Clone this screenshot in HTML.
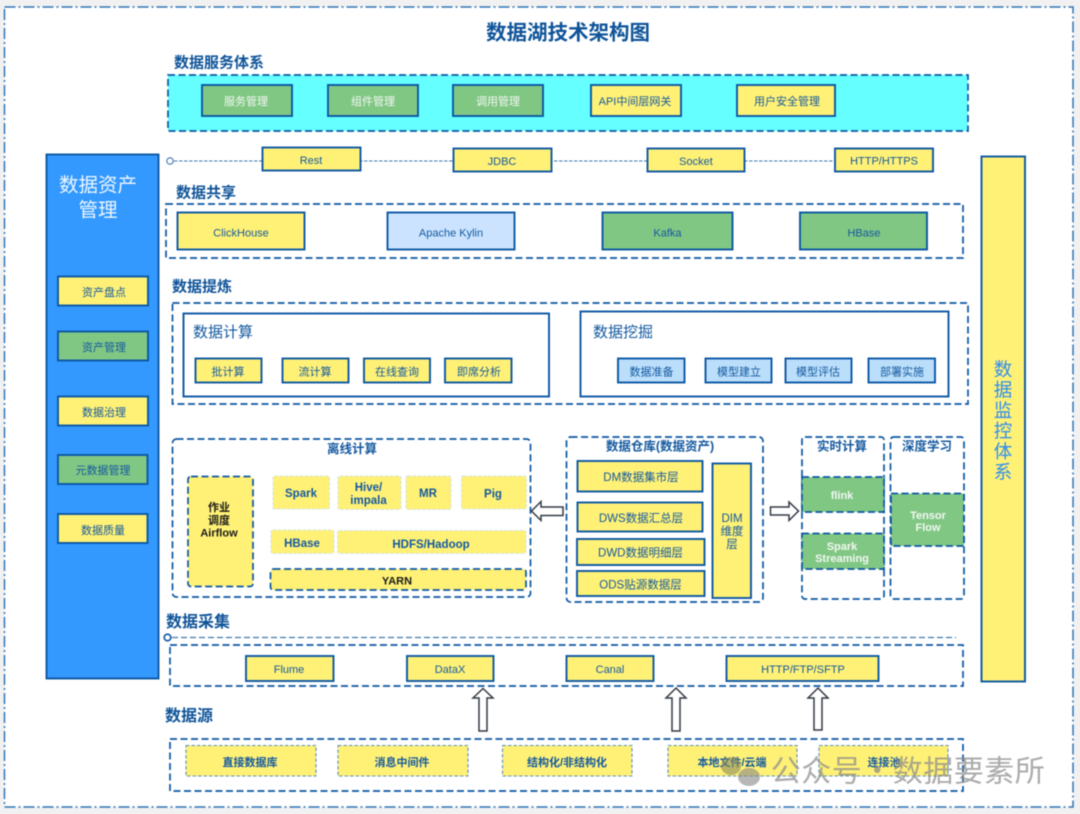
<!DOCTYPE html>
<html lang="zh">
<head>
<meta charset="utf-8">
<title>数据湖技术架构图</title>
<style>
html,body{margin:0;padding:0;background:#f1f1f1;width:1080px;height:814px;overflow:hidden}
svg{display:block;filter:blur(.45px)}
text{font-family:"Liberation Sans","Noto Sans CJK SC",sans-serif;fill:#14599f;text-anchor:middle;dominant-baseline:central;font-size:11px;transform:translateY(.8px)}
.h{font-size:15px;font-weight:700;text-anchor:start;fill:#0f5499}
.b{font-weight:700}
.k{font-weight:700;fill:#1a1a1a}
.w{fill:#f2f7f2}
.s{stroke:#0b57a4;stroke-width:1.9}
.d{stroke:#0b57a4;stroke-width:1.7;stroke-dasharray:7 3.5;fill:none}
.dl{stroke:#5f90bc;stroke-width:1.1;stroke-dasharray:3.5 2;fill:#fff176}
.dp{stroke:#cfe3f2;stroke-width:1;stroke-dasharray:3 2;fill:#fff176}
.y{fill:#fff176}.g{fill:#81c784}.l{fill:#bbdefb}.lk{fill:#cbe3ff}
.a{fill:#fff;stroke:#333b45;stroke-width:1.5}
</style>
</head>
<body>
<svg width="1080" height="814" viewBox="0 0 1080 814" xmlns="http://www.w3.org/2000/svg">
<rect x="4.5" y="7" width="1068.5" height="800" fill="#fff" stroke="#2f74b5" stroke-width="1.5" stroke-dasharray="11 3 2 3"/>
<text x="568" y="32" style="font-size:20.5px;font-weight:700;fill:#0f5499">数据湖技术架构图</text>

<text class="h" x="174" y="62">数据服务体系</text>
<rect class="d" x="168" y="75" width="800" height="56" style="fill:#66ffff"/>
<rect class="s g" x="202" y="85" width="90" height="31"/><text class="w" x="246" y="101">服务管理</text>
<rect class="s g" x="328" y="85" width="90" height="31"/><text class="w" x="373" y="101">组件管理</text>
<rect class="s g" x="453" y="85" width="90" height="31"/><text class="w" x="498" y="101">调用管理</text>
<rect class="s y" x="591" y="85" width="90" height="31"/><text x="635" y="101">API中间层网关</text>
<rect class="s y" x="737" y="85" width="98" height="31"/><text x="787" y="101">用户安全管理</text>

<line x1="174" y1="161" x2="834" y2="161" stroke="#3f78b0" stroke-width="1" stroke-dasharray="3.5 1.5"/>
<circle cx="170" cy="161" r="3.2" fill="#fff" stroke="#3f78b0" stroke-width="1.1"/>
<rect class="s y" x="262.500" y="147.500" width="98" height="23"/><text x="311" y="160">Rest</text>
<rect class="s y" x="453.500" y="148.500" width="98" height="23"/><text x="502" y="161">JDBC</text>
<rect class="s y" x="647.500" y="148.500" width="97" height="23"/><text x="696" y="161">Socket</text>
<rect class="s y" x="835" y="148.500" width="98" height="23"/><text x="884" y="160.500">HTTP/HTTPS</text>

<text class="h" x="176" y="192">数据共享</text>
<rect class="d" x="166" y="204" width="797" height="54"/>
<rect class="s y" x="177.500" y="212.500" width="127" height="37"/><text x="241" y="232.500">ClickHouse</text>
<rect class="s lk" x="387.500" y="212.500" width="127" height="37"/><text x="451" y="232.500">Apache Kylin</text>
<rect class="s g" x="602.500" y="212.500" width="130" height="37"/><text x="667.500" y="232.500">Kafka</text>
<rect class="s g" x="800" y="212.500" width="127" height="37"/><text x="864" y="232.500">HBase</text>

<rect class="s" x="46.500" y="154.500" width="112" height="524" fill="#3399ff"/>
<text x="98" y="184.500" class="w" style="font-size:19.500px;fill:#eef6ff">数据资产</text>
<text x="98" y="209.500" class="w" style="font-size:19.500px;fill:#eef6ff">管理</text>
<rect class="s y" x="58" y="276.500" width="90" height="29"/><text x="104" y="292">资产盘点</text>
<rect class="s g" x="58" y="331.500" width="90" height="29"/><text x="104" y="347">资产管理</text>
<rect class="s y" x="58" y="396.500" width="90" height="29"/><text x="104" y="412">数据治理</text>
<rect class="s g" x="58" y="455" width="89.500" height="29"/><text x="103" y="470">元数据管理</text>
<rect class="s y" x="58" y="514" width="89.500" height="29"/><text x="103" y="530">数据质量</text>

<rect class="s y" x="981.500" y="156.500" width="43.500" height="525"/>
<g>
<text x="1003" y="368.500" style="font-size:18.500px;fill:#2f8ef0">数</text>
<text x="1003" y="389" style="font-size:18.500px;fill:#2f8ef0">据</text>
<text x="1003" y="409.500" style="font-size:18.500px;fill:#2f8ef0">监</text>
<text x="1003" y="430" style="font-size:18.500px;fill:#2f8ef0">控</text>
<text x="1003" y="450.500" style="font-size:18.500px;fill:#2f8ef0">体</text>
<text x="1003" y="471" style="font-size:18.500px;fill:#2f8ef0">系</text>
</g>

<text class="h" x="172" y="286">数据提炼</text>
<rect class="d" x="172.500" y="303" width="795.500" height="101"/>
<rect class="s" x="183.500" y="313.500" width="365.500" height="83" fill="#fff"/>
<text x="193" y="331.500" style="font-size:15px;text-anchor:start">数据计算</text>
<rect class="s y" x="195.500" y="358.500" width="66" height="24"/><text x="228" y="371.500">批计算</text>
<rect class="s y" x="282.500" y="358.500" width="66" height="24"/><text x="315" y="371.500">流计算</text>
<rect class="s y" x="364" y="358.500" width="66" height="24"/><text x="397" y="371.500">在线查询</text>
<rect class="s y" x="445" y="358.500" width="66.500" height="24"/><text x="479" y="371.500">即席分析</text>
<rect class="s" x="580.500" y="311.500" width="368" height="85" fill="#fff"/>
<text x="593" y="331.500" style="font-size:15px;text-anchor:start">数据挖掘</text>
<rect class="s l" x="618" y="358.500" width="66.500" height="24"/><text x="651.500" y="371.500">数据准备</text>
<rect class="s l" x="705.500" y="358.500" width="66" height="24"/><text x="739" y="371.500">模型建立</text>
<rect class="s l" x="785.500" y="358.500" width="66" height="24"/><text x="818" y="371.500">模型评估</text>
<rect class="s l" x="868.500" y="358.500" width="66.500" height="24"/><text x="902" y="371.500">部署实施</text>

<rect class="d" x="172.500" y="439" width="358" height="158" rx="4"/>
<text class="b" x="352" y="448" style="font-size:12.500px">离线计算</text>
<rect class="d y" x="188" y="476.500" width="65" height="110" rx="3" style="fill:#fff176"/>
<text class="k" x="219" y="507">作业</text><text class="k" x="219" y="520">调度</text><text class="k" x="219" y="532.500">Airflow</text>
<rect class="dp" x="273" y="476" width="56.500" height="33" rx="2"/><text class="b" x="301" y="493" style="font-size:11.500px">Spark</text>
<rect class="dp" x="338" y="476" width="63" height="33.500" rx="2"/><text class="b" x="368.500" y="487" style="font-size:11.500px">Hive/</text><text class="b" x="368.500" y="500" style="font-size:11.500px">impala</text>
<rect class="dp" x="406" y="476" width="45" height="33.500" rx="2"/><text class="b" x="428" y="493" style="font-size:11.500px">MR</text>
<rect class="dp" x="461.500" y="476" width="65" height="33" rx="2"/><text class="b" x="493" y="493.500" style="font-size:11.500px">Pig</text>
<rect class="dp" x="271" y="530" width="63" height="23.500" rx="2"/><text class="b" x="302" y="543" style="font-size:11.500px">HBase</text>
<rect class="dp" x="337.500" y="530.500" width="188.500" height="23" rx="2"/><text class="b" x="431" y="544" style="font-size:11.500px">HDFS/Hadoop</text>
<rect class="d" x="270.500" y="569" width="255.500" height="21" rx="3" style="fill:#fff176"/><text class="k" x="397" y="580.500">YARN</text>

<polygon class="a" points="531.500,511 541,501.500 541,507 563,507 563,515.500 541,515.500 541,520.500"/>

<rect class="d" x="566.500" y="437" width="196.500" height="165" rx="4"/>
<text class="b" x="660" y="445.500" style="font-size:12.500px">数据仓库(数据资产)</text>
<rect class="s y" x="577.500" y="461" width="125" height="30.500"/><text x="641" y="477" style="font-size:11.500px">DM数据集市层</text>
<rect class="s y" x="577.500" y="502.500" width="125" height="29"/><text x="641" y="518" style="font-size:11.500px">DWS数据汇总层</text>
<rect class="s y" x="577" y="539" width="127.500" height="26"/><text x="640.500" y="552.500" style="font-size:11.500px">DWD数据明细层</text>
<rect class="s y" x="577" y="571" width="127.500" height="25"/><text x="640.500" y="584.500" style="font-size:11.500px">ODS贴源数据层</text>
<rect class="s y" x="712.500" y="463.500" width="38.500" height="134.500"/>
<text x="732" y="518" style="font-size:11.500px">DIM</text><text x="732" y="531" style="font-size:11.500px">维度</text><text x="732" y="544" style="font-size:11.500px">层</text>

<polygon class="a" points="770.500,507 789,507 789,502 798.500,511 789,520.500 789,515 770.500,515"/>

<rect class="d" x="802" y="437" width="82" height="162" rx="3"/>
<text class="b" x="842" y="445.500" style="font-size:12.500px">实时计算</text>
<rect class="d" x="802" y="477" width="82" height="35" style="fill:#81c784"/><text class="b w" x="842" y="495">flink</text>
<rect class="d" x="802" y="533.500" width="82" height="35.500" style="fill:#81c784"/>
<text class="b w" x="842" y="546">Spark</text><text class="b w" x="842" y="558">Streaming</text>

<rect class="d" x="890.500" y="437" width="73.500" height="162" rx="3"/>
<text class="b" x="927" y="445.500" style="font-size:12.500px">深度学习</text>
<rect class="d" x="891" y="493.500" width="73" height="52.500" style="fill:#81c784"/>
<text class="b w" x="928" y="515">Tensor</text><text class="b w" x="928" y="527">Flow</text>

<text class="h" x="166" y="621.500" style="font-size:16px">数据采集</text>
<circle cx="167.500" cy="637.500" r="3.300" fill="#fff" stroke="#0b57a4" stroke-width="1.600"/>
<line x1="172" y1="637.500" x2="956" y2="637.500" stroke="#3f78b0" stroke-width="1.300" stroke-dasharray="6 3"/>
<rect class="d" x="170" y="645" width="793" height="41"/>
<rect class="s y" x="246" y="656" width="87.500" height="25"/><text x="289" y="669">Flume</text>
<rect class="s y" x="407" y="656" width="86.500" height="25"/><text x="450" y="669">DataX</text>
<rect class="s y" x="566.500" y="656" width="87" height="25"/><text x="610" y="669">Canal</text>
<rect class="s y" x="726.500" y="656" width="152" height="25"/><text x="803" y="669">HTTP/FTP/SFTP</text>

<polygon class="a" points="483,688.500 493,698 487,698 487,731 479,731 479,698 473,698"/>
<polygon class="a" points="676,688 686,698 680,698 680,731 672,731 672,698 666,698"/>
<polygon class="a" points="818,688 828,698 822,698 822,730 814,730 814,698 808,698"/>

<text class="h" x="165" y="715.500" style="font-size:16px">数据源</text>
<rect class="d" x="170" y="739" width="793" height="52"/>
<rect class="dl" x="186" y="745.500" width="130" height="30.500"/><text class="b" x="250" y="762">直接数据库</text>
<rect class="dl" x="338" y="745.500" width="130" height="30.500"/><text class="b" x="402" y="762">消息中间件</text>
<rect class="dl" x="502.500" y="745.500" width="129.500" height="30.500"/><text class="b" x="567" y="762">结构化/非结构化</text>
<rect class="dl" x="668" y="745.500" width="129" height="30.500"/><text class="b" x="732" y="762">本地文件/云端</text>
<rect class="dl" x="819" y="745.500" width="129" height="30.500"/><text class="b" x="884" y="762">连接池</text>

<g opacity=".6">
<ellipse cx="731" cy="766" rx="10" ry="9" fill="#8a8a5a"/>
<ellipse cx="749" cy="777" rx="11" ry="9" fill="#888"/>
</g>
<text x="908" y="771" style="font-size:30px;letter-spacing:.5px;fill:#8b8b8b;fill-opacity:.72">公众号・数据要素所</text>
</svg>
</body>
</html>
